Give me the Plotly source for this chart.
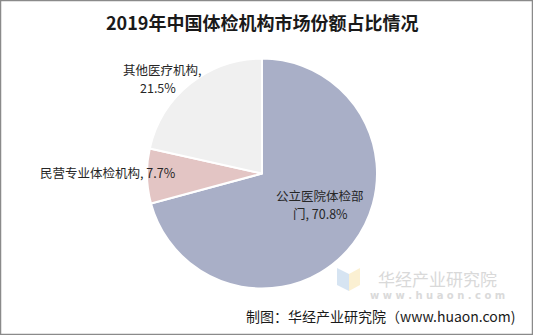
import plotly.graph_objects as go

# Market share of health-check institutions in China, 2019
categories = ["公立医院体检部门", "民营专业体检机构", "其他医疗机构"]
shares = [70.8, 7.7, 21.5]
colors = ["#A9AFC7", "#E3C5C4", "#F0F0F0"]

W, H = 533, 335

fig = go.Figure(go.Pie(
    labels=categories,
    values=shares,
    sort=False,
    direction="clockwise",
    rotation=0,
    marker=dict(colors=colors, line=dict(color="white", width=2)),
    textinfo="none",
    hoverinfo="label+percent",
    domain=dict(x=[147 / W, 377 / W], y=[(H - 289) / H, (H - 58) / H]),
    showlegend=False,
))

# slice labels: category name and share, one annotation per text line
label_font = dict(family="Noto Sans CJK SC", size=12.5, color="#262626")
label_lines = [
    ("公立医院体检部", 320, 195),
    ("门, {:.1f}%".format(shares[0]), 320, 213),
    ("{}, {:.1f}%".format(categories[1], shares[1]), 108, 172),
    ("{},".format(categories[2]), 162, 69),
    ("{:.1f}%".format(shares[2]), 158, 87),
]

annotations = []
for txt, x, y in label_lines:
    annotations.append(dict(
        text=txt, x=x / W, y=1 - y / H, xref="paper", yref="paper",
        showarrow=False, font=label_font, align="center",
        xanchor="center", yanchor="middle",
    ))

# title
annotations.append(dict(
    text="<b>2019年中国体检机构市场份额占比情况</b>",
    x=262 / W, y=1 - 22 / H, xref="paper", yref="paper", showarrow=False,
    font=dict(family="Noto Sans CJK SC", size=18, color="#1a1a1a"),
    xanchor="center", yanchor="middle",
))

# watermark
annotations.append(dict(
    text="华经产业研究院", x=437 / W, y=1 - 278 / H, xref="paper", yref="paper",
    showarrow=False, font=dict(family="Noto Sans CJK SC", size=17, color="#D9D9D9"),
    xanchor="center", yanchor="middle",
))
annotations.append(dict(
    text="<b>w w w . h u a o n . c o m</b>", x=437 / W, y=1 - 295 / H,
    xref="paper", yref="paper", showarrow=False,
    font=dict(family="DejaVu Sans", size=10, color="#DADADA"),
    xanchor="center", yanchor="middle",
))

# footer source note
annotations.append(dict(
    text="制图：华经产业研究院（www.huaon.com)", x=518 / W, y=1 - 316 / H,
    xref="paper", yref="paper", showarrow=False,
    font=dict(family="Noto Sans CJK SC", size=14, color="#1a1a1a"),
    xanchor="right", yanchor="middle",
))

def px(x, y):
    return "{:.4f} {:.4f}".format(x / W, 1 - y / H)

shapes = [
    # outer frame
    dict(type="rect", xref="paper", yref="paper", x0=0.5 / W, y0=0.5 / H,
         x1=1 - 0.5 / W, y1=1 - 0.5 / H, line=dict(color="#8A8A8A", width=1.5),
         fillcolor="rgba(0,0,0,0)"),
    # watermark logo
    dict(type="path", xref="paper", yref="paper",
         path="M {} L {} L {} L {} Z".format(px(337, 268), px(349, 274), px(349, 291), px(337, 285)),
         fillcolor="#D6E4F2", line=dict(width=0)),
    dict(type="path", xref="paper", yref="paper",
         path="M {} L {} L {} L {} Z".format(px(349, 274), px(360, 268), px(360, 285), px(349, 291)),
         fillcolor="#FBF0D2", line=dict(width=0)),
]

fig.update_layout(
    width=W, height=H,
    margin=dict(l=0, r=0, t=0, b=0),
    paper_bgcolor="white",
    plot_bgcolor="white",
    annotations=annotations,
    shapes=shapes,
)

fig.write_html("out.html")
